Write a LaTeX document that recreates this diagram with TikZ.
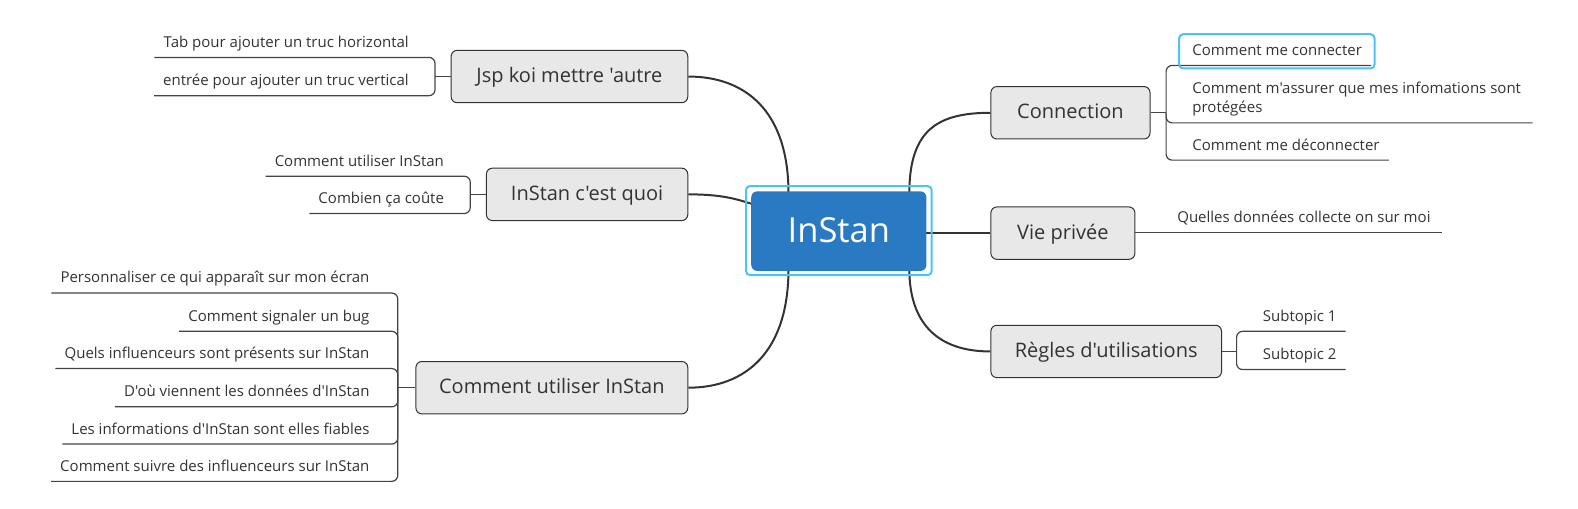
\documentclass[tikz,border=0pt]{standalone}
\usepackage{fontspec}
\setmainfont{Open Sans}[Ligatures=TeXOff]
\usetikzlibrary{calc}
\definecolor{linec}{HTML}{333333}
\definecolor{sublinec}{HTML}{444444}
\definecolor{topicfill}{HTML}{E8E8E8}
\definecolor{centralfill}{HTML}{2A79C3}
\definecolor{selc}{HTML}{4CC3F5}
\definecolor{txt}{HTML}{333333}
\tikzset{
 topic/.style={draw=linec, fill=topicfill, line width=1pt, rounded corners=6pt, text=txt, font=\fontsize{20}{24}\selectfont, text height=15pt, text depth=3pt, inner sep=0pt, minimum height=52.4pt},
 central/.style={fill=centralfill, rounded corners=6pt, text=white, font=\fontsize{34.5}{40}\selectfont, text height=25pt, text depth=2pt, minimum width=175.2pt, minimum height=79.6pt, inner sep=0pt},
 sub/.style={text=txt, font=\fontsize{15}{19.2}\selectfont, inner xsep=9pt, inner ysep=0pt},
 subl/.style={sub, anchor=base east},
 subr/.style={sub, anchor=base west},
 mainlink/.style={draw=linec, line width=2pt},
 sublink/.style={draw=sublinec, line width=1.2pt, rounded corners=6pt},
 sel/.style={draw=selc, line width=2pt, rounded corners=4pt},
}
\begin{document}
\begin{tikzpicture}[x=1.007pt,y=-1.007pt]
\useasboundingbox (0,0) rectangle (1567.03,504.47);
% topics
\node[topic, minimum width=236.6pt] (jsp) at (565.5,76) {Jsp koi mettre 'autre};
\node[topic, minimum width=201.4pt] (quoi) at (583,193) {InStan c'est quoi};
\node[topic, minimum width=271.9pt] (util) at (548,385) {Comment utiliser InStan};
\node[topic, minimum width=159.1pt] (conn) at (1063,112) {Connection};
\node[topic, minimum width=144pt] (vie) at (1055.5,231.5) {Vie privée};
\node[topic, minimum width=230.6pt] (regles) at (1098.5,349) {Règles d'utilisations};
% central link anchors
\coordinate (cjsp) at (783,192);
\coordinate (cquoi) at (748,203);
\coordinate (cutil) at (783,267);
\coordinate (cconn) at (903,192);
\coordinate (cvie) at (918,231);
\coordinate (cregles) at (903,267);
\draw[mainlink] (cjsp) .. controls (783,110) and (740,76) .. (jsp.east);
\draw[mainlink] (cquoi) .. controls (730,197) and (715,193) .. (quoi.east);
\draw[mainlink] (cutil) .. controls (783,350) and (740,385) .. (util.east);
\draw[mainlink] (cconn) .. controls (903,130) and (930,112) .. (conn.west);
\draw[mainlink] (cvie) -- (vie.west |- cvie);
\draw[mainlink] (cregles) .. controls (903,320) and (930,349) .. (regles.west);
% central
\node[central] (c) at (833,229.5) {InStan};
\draw[sel] ($(c.south west)+(-5,4)$) rectangle ($(c.north east)+(5,-5)$);
% Jsp children
\coordinate (bj) at (432,76);
\node[subl] (j1) at (415,47) {Tab pour ajouter un truc horizontal};
\node[subl] (j2) at (415,85) {entrée pour ajouter un truc vertical};
\draw[sublink] (jsp.west) -- (bj);
\draw[sublink] (bj) |- ($(j1.base west)+(0,10)$);
\draw[sublink] (bj) |- ($(j2.base west)+(0,10)$);
% Quoi children
\coordinate (bq) at (467,193);
\node[subl] (q1) at (450,165) {Comment utiliser InStan};
\node[subl] (q2) at (450,202) {Combien ça coûte};
\draw[sublink] (quoi.west) -- (bq);
\draw[sublink] (bq) |- ($(q1.base west)+(0,10)$);
\draw[sublink] (bq) |- ($(q2.base west)+(0,10)$);
% Util children
\coordinate (bu) at (395,385);
\node[subl] (u1) at (376,281) {Personnaliser ce qui apparaît sur mon écran};
\node[subl] (u2) at (376,319) {Comment signaler un bug};
\node[subl] (u3) at (376,356) {Quels influenceurs sont présents sur InStan};
\node[subl] (u4) at (376,394) {D'où viennent les données d'InStan};
\node[subl] (u5) at (376,431) {Les informations d'InStan sont elles fiables};
\node[subl] (u6) at (376,468) {Comment suivre des influenceurs sur InStan};
\draw[sublink] (util.west) -- (bu);
\foreach \n in {u1,u2,u3,u4,u5,u6}{
  \draw[sublink] (bu) |- ($(\n.base west)+(0,10)$);
}
% Connection children
\coordinate (bc) at (1158,112);
\node[subr] (k1) at (1175,55) {Comment me connecter};
\node[sub, anchor=base west] (k2) at (1175,112) {\parbox[b]{360pt}{\raggedright Comment m'assurer que mes infomations sont\\protégées}};
\coordinate (k2end) at (1522,122);
\node[subr] (k3) at (1175,149) {Comment me déconnecter};
\draw[sublink] (conn.east) -- (bc);
\draw[sublink] (bc) |- ($(k1.base east)+(0,10)$);
\draw[sublink] (bc) |- (k2end);
\draw[sublink] (bc) |- ($(k3.base east)+(0,10)$);
\draw[sel] (1171,34) rectangle (1365,68);
% Vie children
\node[subr] (v1) at (1160,221) {Quelles données collecte on sur moi};
\coordinate (v1end) at (1432,231);
\draw[sublink] (vie.east |- cvie) -- (v1end);
% Regles children
\coordinate (br) at (1228,349);
\node[subr] (r1) at (1245,319) {Subtopic 1};
\node[subr] (r2) at (1245,357) {Subtopic 2};
\draw[sublink] (regles.east) -- (br);
\draw[sublink] (br) |- ($(r1.base east)+(0,10)$);
\draw[sublink] (br) |- ($(r2.base east)+(0,10)$);
\end{tikzpicture}
\end{document}
